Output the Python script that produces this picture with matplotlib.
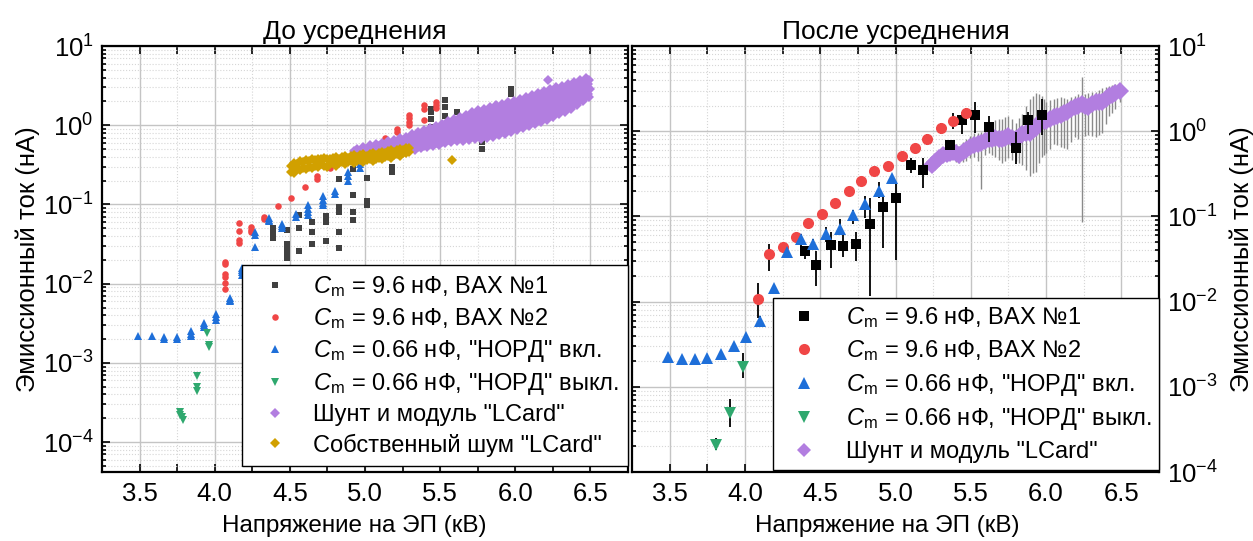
import numpy as np
import matplotlib
matplotlib.use("Agg")
import matplotlib.pyplot as plt
from matplotlib.lines import Line2D
from matplotlib.ticker import MultipleLocator, LogLocator, NullFormatter

plt.rcParams["font.family"] = ["Liberation Sans", "DejaVu Sans"]
plt.rcParams["mathtext.fontset"] = "custom"
plt.rcParams["mathtext.rm"] = "Liberation Sans"
plt.rcParams["mathtext.it"] = "Liberation Sans:italic"
plt.rcParams["mathtext.bf"] = "Liberation Sans:bold"

# ---------------- left panel: raw data ----------------
vax1_x = [4.39, 4.39, 4.39, 4.48, 4.48, 4.48, 4.48, 4.48, 4.56, 4.56, 4.56,
          4.65, 4.65, 4.65, 4.74, 4.74, 4.74, 4.83, 4.83, 4.83, 4.83, 4.83,
          4.92, 4.92, 4.92, 4.92, 5.01, 5.01, 5.01, 5.09, 5.18, 5.18, 5.27, 5.35,
          5.44, 5.44, 5.44, 5.44, 5.53, 5.53, 5.53, 5.61, 5.70,
          5.78, 5.78, 5.78, 5.88, 5.88, 5.97, 5.97, 5.97]
vax1_y = [0.050, 0.045, 0.038, 0.048, 0.032, 0.027, 0.024, 0.021, 0.074, 0.050, 0.026,
          0.060, 0.045, 0.032, 0.072, 0.060, 0.035, 0.21, 0.092, 0.080, 0.045, 0.028,
          0.28, 0.13, 0.080, 0.064, 0.215, 0.11, 0.098, 0.41, 0.30, 0.26, 0.58, 0.75,
          1.60, 1.45, 1.20, 0.95, 2.06, 1.70, 1.30, 1.45, 1.00,
          0.75, 0.62, 0.50, 1.40, 1.15, 2.9, 2.5, 1.8]

vax2_x = [4.07, 4.07, 4.07, 4.07, 4.07, 4.07, 4.16, 4.16, 4.16, 4.16,
          4.24, 4.24, 4.24, 4.33, 4.33, 4.42, 4.51, 4.60, 4.68, 4.68, 4.77, 4.85,
          4.95, 5.03, 5.13, 5.13, 5.21, 5.21, 5.29, 5.29, 5.29, 5.29,
          5.39, 5.39, 5.39, 5.47, 5.47, 5.47]
vax2_y = [0.019, 0.0177, 0.0134, 0.0122, 0.0103, 0.0085, 0.058, 0.046, 0.036, 0.033,
          0.052, 0.048, 0.045, 0.069, 0.066, 0.096, 0.12, 0.166, 0.23, 0.21, 0.29, 0.35,
          0.44, 0.55, 0.69, 0.65, 0.89, 0.82, 1.34, 1.22, 1.10, 1.00,
          1.80, 1.60, 1.15, 1.95, 1.80, 1.63]

nord_on_x = [3.49, 3.58, 3.66, 3.66, 3.75, 3.75, 3.84, 3.84, 3.84,
             3.93, 3.93, 3.93, 4.01, 4.01, 4.01, 4.10, 4.10, 4.10,
             4.18, 4.18, 4.18, 4.18, 4.27, 4.27, 4.27, 4.36, 4.36, 4.36,
             4.45, 4.45, 4.45, 4.54, 4.54, 4.62, 4.62, 4.62, 4.62,
             4.72, 4.72, 4.72, 4.72, 4.80, 4.80, 4.89, 4.89, 4.89, 4.97, 4.97]
nord_on_y = [0.0022, 0.0022, 0.0021, 0.0020, 0.0021, 0.0020, 0.0025, 0.0023, 0.0022,
             0.0032, 0.0030, 0.0028, 0.0041, 0.0038, 0.0035, 0.0066, 0.0063, 0.0060,
             0.016, 0.015, 0.014, 0.013, 0.045, 0.041, 0.029, 0.068, 0.064, 0.061,
             0.057, 0.054, 0.051, 0.076, 0.069, 0.098, 0.088, 0.080, 0.074,
             0.128, 0.115, 0.105, 0.098, 0.150, 0.134, 0.26, 0.23, 0.20, 0.32, 0.29]

nord_off_x = [3.77, 3.77, 3.78, 3.79, 3.88, 3.88, 3.88, 3.95, 3.96, 3.96]
nord_off_y = [0.00024, 0.00022, 0.00021, 0.00019, 0.00068, 0.00049, 0.00044,
              0.0024, 0.0017, 0.0016]

# LCard band, hand-read in rows across the band (upper edge, middle, lower edge)
lcard_x = [4.93, 4.95, 4.97, 4.99, 5.01, 5.03, 5.05, 5.07, 5.09, 5.11, 5.13, 5.15,
           5.17, 5.19, 5.21, 5.23, 5.25, 5.27, 5.29, 5.31, 5.33, 5.35, 5.37, 5.39,
           5.41, 5.43, 5.45, 5.47, 5.49, 5.51, 5.53, 5.55, 5.57, 5.59, 5.61, 5.63,
           5.65, 5.67, 5.69, 5.71, 5.73, 5.75, 5.77, 5.79, 5.81, 5.83, 5.85, 5.87,
           5.89, 5.91, 5.93, 5.95, 5.97, 5.99, 6.01, 6.03, 6.05, 6.07, 6.09, 6.11,
           6.13, 6.15, 6.17, 6.19, 6.21, 6.23, 6.25, 6.27, 6.29, 6.31, 6.33, 6.35,
           6.37, 6.39, 6.41, 6.43, 6.45, 6.47, 6.49]
lcard_x_mid = [4.94, 4.96, 4.98, 5.00, 5.02, 5.04, 5.06, 5.08, 5.10, 5.12, 5.14, 5.16,
               5.18, 5.20, 5.22, 5.24, 5.26, 5.28, 5.30, 5.32, 5.34, 5.36, 5.38, 5.40,
               5.42, 5.44, 5.46, 5.48, 5.50, 5.52, 5.54, 5.56, 5.58, 5.60, 5.62, 5.64,
               5.66, 5.68, 5.70, 5.72, 5.74, 5.76, 5.78, 5.80, 5.82, 5.84, 5.86, 5.88,
               5.90, 5.92, 5.94, 5.96, 5.98, 6.00, 6.02, 6.04, 6.06, 6.08, 6.10, 6.12,
               6.14, 6.16, 6.18, 6.20, 6.22, 6.24, 6.26, 6.28, 6.30, 6.32, 6.34, 6.36,
               6.38, 6.40, 6.42, 6.44, 6.46, 6.48, 6.50]
lcard_hi = [0.47, 0.50, 0.45, 0.53, 0.49, 0.56, 0.50, 0.58, 0.54, 0.60, 0.55, 0.63,
            0.58, 0.66, 0.60, 0.69, 0.64, 0.72, 0.66, 0.78, 0.70, 0.82, 0.75, 0.86,
            0.80, 0.93, 0.84, 0.98, 0.90, 1.04, 0.95, 1.12, 1.00, 1.20, 1.08, 1.28,
            1.15, 1.36, 1.22, 1.45, 1.30, 1.55, 1.38, 1.62, 1.45, 1.70, 1.52, 1.78,
            1.60, 1.88, 1.68, 1.95, 1.78, 2.05, 1.88, 2.15, 1.98, 2.28, 2.08, 2.40,
            2.20, 2.55, 2.32, 2.70, 2.45, 2.85, 2.60, 3.00, 2.75, 3.15, 2.90, 3.35,
            3.05, 3.55, 3.25, 3.75, 3.40, 3.95, 3.70]
lcard_mid = [0.41, 0.44, 0.42, 0.45, 0.44, 0.47, 0.45, 0.49, 0.47, 0.50, 0.48, 0.52,
             0.50, 0.54, 0.52, 0.56, 0.54, 0.59, 0.56, 0.62, 0.59, 0.65, 0.62, 0.68,
             0.65, 0.72, 0.68, 0.76, 0.71, 0.80, 0.74, 0.84, 0.78, 0.88, 0.82, 0.92,
             0.86, 0.97, 0.90, 1.02, 0.94, 1.07, 0.98, 1.12, 1.02, 1.17, 1.06, 1.22,
             1.10, 1.28, 1.15, 1.34, 1.21, 1.41, 1.28, 1.50, 1.36, 1.60, 1.45, 1.70,
             1.55, 1.82, 1.66, 1.95, 1.78, 2.08, 1.90, 2.22, 2.02, 2.36, 2.15, 2.50,
             2.30, 2.65, 2.45, 2.82, 2.62, 3.00, 2.85]
lcard_lo = [0.37, 0.38, 0.36, 0.39, 0.38, 0.40, 0.39, 0.42, 0.40, 0.43, 0.41, 0.44,
            0.43, 0.46, 0.44, 0.47, 0.46, 0.49, 0.47, 0.51, 0.49, 0.53, 0.51, 0.55,
            0.53, 0.58, 0.55, 0.60, 0.57, 0.62, 0.59, 0.65, 0.61, 0.67, 0.63, 0.69,
            0.64, 0.71, 0.65, 0.73, 0.67, 0.74, 0.68, 0.76, 0.70, 0.79, 0.72, 0.82,
            0.75, 0.85, 0.78, 0.89, 0.82, 0.94, 0.86, 1.00, 0.91, 1.06, 0.97, 1.13,
            1.03, 1.20, 1.10, 1.28, 1.18, 1.37, 1.27, 1.48, 1.37, 1.60, 1.48, 1.72,
            1.62, 1.88, 1.80, 2.08, 2.02, 2.30, 2.25]
# the band widens above 5.5 kV: two more rows in between
lcard_xq = [5.505, 5.525, 5.545, 5.565, 5.585, 5.605, 5.625, 5.645, 5.665, 5.685,
            5.705, 5.725, 5.745, 5.765, 5.785, 5.805, 5.825, 5.845, 5.865, 5.885,
            5.905, 5.925, 5.945, 5.965, 5.985, 6.005, 6.025, 6.045, 6.065, 6.085,
            6.105, 6.125, 6.145, 6.165, 6.185, 6.205, 6.225, 6.245, 6.265, 6.285,
            6.305, 6.325, 6.345, 6.365, 6.385, 6.405, 6.425, 6.445, 6.465, 6.485]
lcard_qhi = [0.86, 0.82, 0.90, 0.87, 0.95, 0.99, 0.95, 1.04, 1.01, 1.10,
             1.16, 1.10, 1.20, 1.17, 1.27, 1.32, 1.26, 1.36, 1.33, 1.42,
             1.47, 1.41, 1.53, 1.50, 1.60, 1.66, 1.60, 1.73, 1.70, 1.83,
             1.92, 1.85, 2.00, 1.96, 2.12, 2.24, 2.15, 2.33, 2.28, 2.46,
             2.60, 2.50, 2.70, 2.65, 2.88, 3.02, 2.92, 3.15, 3.10, 3.35]
lcard_qlo = [0.66, 0.69, 0.67, 0.71, 0.70, 0.75, 0.73, 0.77, 0.75, 0.80,
             0.82, 0.79, 0.84, 0.82, 0.88, 0.90, 0.87, 0.93, 0.90, 0.97,
             0.99, 0.96, 1.03, 1.01, 1.09, 1.13, 1.09, 1.18, 1.15, 1.25,
             1.31, 1.26, 1.37, 1.33, 1.46, 1.56, 1.50, 1.63, 1.58, 1.73,
             1.84, 1.77, 1.93, 1.88, 2.07, 2.22, 2.14, 2.33, 2.28, 2.50]
lcard_extra_x = [6.22]
lcard_extra_y = [3.7]

noise_x = [4.51, 4.53, 4.55, 4.57, 4.59, 4.61, 4.63, 4.65, 4.67, 4.69, 4.71, 4.73,
           4.75, 4.77, 4.79, 4.81, 4.83, 4.85, 4.87, 4.89, 4.91, 4.93, 4.95, 4.97,
           4.99, 5.01, 5.03, 5.05, 5.07, 5.09, 5.11, 5.13, 5.15, 5.17, 5.19, 5.21,
           5.23, 5.25, 5.27, 5.29]
noise_hi = [0.31, 0.33, 0.32, 0.35, 0.34, 0.36, 0.35, 0.37, 0.36, 0.38, 0.37, 0.39,
            0.38, 0.37, 0.39, 0.40, 0.38, 0.40, 0.41, 0.39, 0.41, 0.42, 0.40, 0.42,
            0.43, 0.41, 0.43, 0.44, 0.42, 0.45, 0.46, 0.44, 0.47, 0.48, 0.46, 0.49,
            0.50, 0.48, 0.51, 0.52]
noise_lo = [0.26, 0.25, 0.28, 0.27, 0.29, 0.28, 0.30, 0.29, 0.31, 0.30, 0.32, 0.31,
            0.30, 0.32, 0.33, 0.31, 0.33, 0.34, 0.32, 0.34, 0.35, 0.33, 0.35, 0.36,
            0.34, 0.36, 0.37, 0.35, 0.38, 0.39, 0.37, 0.40, 0.41, 0.39, 0.42, 0.43,
            0.41, 0.44, 0.45, 0.46]
noise_extra_x = [5.58]
noise_extra_y = [0.36]

# ---------------- right panel: averaged data (value, lower, upper) ----------------
avg1_x = [4.40, 4.475, 4.57, 4.65, 4.74, 4.83, 4.92, 5.00, 5.10, 5.18, 5.36, 5.44,
          5.53, 5.62, 5.80, 5.88, 5.97]
avg1_y = [0.039, 0.027, 0.046, 0.045, 0.048, 0.081, 0.129, 0.163, 0.40, 0.35, 0.69,
          1.35, 1.54, 1.13, 0.63, 1.36, 1.56]
avg1_lo = [0.032, 0.0151, 0.0245, 0.033, 0.030, 0.0115, 0.043, 0.031, 0.32, 0.216,
           0.62, 0.92, 0.96, 0.75, 0.41, 0.92, 0.90]
avg1_hi = [0.042, 0.039, 0.065, 0.060, 0.065, 0.165, 0.17, 0.25, 0.48, 0.48, 0.74,
           1.67, 2.2, 1.5, 0.97, 1.7, 2.4]

avg2_x = [4.09, 4.16, 4.25, 4.34, 4.42, 4.51, 4.60, 4.69, 4.77, 4.86, 4.95, 5.04,
          5.13, 5.21, 5.30, 5.38, 5.47]
avg2_y = [0.0108, 0.036, 0.044, 0.057, 0.083, 0.106, 0.145, 0.197, 0.26, 0.34, 0.39,
          0.51, 0.63, 0.80, 1.08, 1.30, 1.64]
avg2_lo = [0.0065, 0.023, 0.040, 0.052, 0.076, 0.097, 0.133, 0.182, 0.24, 0.31, 0.35,
           0.47, 0.58, 0.68, 0.92, 1.05, 1.45]
avg2_hi = [0.0165, 0.048, 0.048, 0.062, 0.090, 0.115, 0.158, 0.214, 0.28, 0.37, 0.43,
           0.56, 0.68, 0.92, 1.25, 1.65, 1.85]

avg_on_x = [3.49, 3.58, 3.67, 3.75, 3.84, 3.93, 4.01, 4.10, 4.19, 4.28, 4.37, 4.45,
            4.54, 4.63, 4.72, 4.80, 4.89, 4.98]
avg_on_y = [0.00223, 0.00214, 0.00213, 0.0022, 0.0024, 0.0030, 0.0038, 0.0060, 0.0145,
            0.038, 0.054, 0.0475, 0.0623, 0.0717, 0.103, 0.138, 0.20, 0.28]
avg_on_lo = [0.00212, 0.00204, 0.00202, 0.00208, 0.0021, 0.0026, 0.0034, 0.0055, 0.013,
             0.034, 0.045, 0.040, 0.050, 0.060, 0.081, 0.097, 0.165, 0.26]
avg_on_hi = [0.00234, 0.00224, 0.00224, 0.00232, 0.0027, 0.0034, 0.0043, 0.0068, 0.016,
             0.043, 0.062, 0.055, 0.075, 0.093, 0.118, 0.172, 0.25, 0.30]

avg_off_x = [3.81, 3.90, 3.99]
avg_off_y = [0.00021, 0.00049, 0.0017]
avg_off_lo = [0.00018, 0.00034, 0.00128]
avg_off_hi = [0.00025, 0.00071, 0.0025]

avg_lc_x = [5.24, 5.265, 5.29, 5.315, 5.34, 5.36, 5.38, 5.40, 5.42, 5.445, 5.47, 5.495,
            5.52, 5.545, 5.57, 5.595, 5.62, 5.64, 5.66, 5.685, 5.71, 5.73, 5.75, 5.775,
            5.80, 5.82, 5.84, 5.865, 5.89, 5.91, 5.93, 5.95, 5.97, 5.985, 6.00, 6.025,
            6.05, 6.075, 6.10, 6.12, 6.14, 6.165, 6.19, 6.215, 6.24, 6.26, 6.28, 6.305,
            6.33, 6.35, 6.37, 6.395, 6.42, 6.44, 6.46, 6.49]
avg_lc_y = [0.40, 0.44, 0.48, 0.52, 0.54, 0.56, 0.57, 0.55, 0.52, 0.57, 0.60, 0.65,
            0.69, 0.71, 0.73, 0.77, 0.80, 0.82, 0.84, 0.82, 0.80, 0.84, 0.88, 0.84,
            0.81, 0.86, 0.92, 0.94, 0.96, 1.03, 1.10, 1.23, 1.37, 1.35, 1.33, 1.40,
            1.46, 1.51, 1.56, 1.62, 1.68, 1.80, 1.93, 2.00, 2.07, 2.00, 1.93, 2.06,
            2.19, 2.21, 2.23, 2.40, 2.56, 2.68, 2.81, 3.00]
avg_lc_lo = [0.34, 0.37, 0.40, 0.43, 0.45, 0.46, 0.47, 0.44, 0.42, 0.44, 0.45, 0.48,
             0.50, 0.45, 0.21, 0.52, 0.55, 0.52, 0.50, 0.46, 0.42, 0.45, 0.48, 0.46,
             0.45, 0.42, 0.40, 0.35, 0.30, 0.32, 0.33, 0.42, 0.50, 0.52, 0.55, 0.62,
             0.70, 0.68, 0.65, 0.64, 0.62, 0.74, 0.85, 0.80, 0.087, 0.88, 0.90, 0.88,
             0.85, 0.90, 0.95, 1.20, 1.50, 1.65, 1.80, 2.20]
avg_lc_hi = [0.46, 0.52, 0.56, 0.62, 0.64, 0.68, 0.70, 0.70, 0.66, 0.74, 0.80, 0.88,
             0.95, 0.96, 0.98, 1.10, 1.20, 1.28, 1.35, 1.38, 1.40, 1.45, 1.50, 1.38,
             1.25, 1.42, 1.60, 2.00, 2.40, 2.60, 2.80, 2.70, 2.60, 2.40, 2.20, 2.30,
             2.40, 2.45, 2.50, 2.45, 2.40, 2.50, 2.60, 2.70, 4.30, 2.75, 2.80, 2.85,
             2.90, 3.05, 3.20, 3.30, 3.40, 3.50, 3.60, 3.70]

labels = [r"$C_\mathrm{m}$ = 9.6 нФ, ВАХ №1",
          r"$C_\mathrm{m}$ = 9.6 нФ, ВАХ №2",
          r'$C_\mathrm{m}$ = 0.66 нФ, "НОРД" вкл.',
          r'$C_\mathrm{m}$ = 0.66 нФ, "НОРД" выкл.',
          'Шунт и модуль "LCard"',
          'Собственный шум "LCard"']

C_BLACK_L = "#404040"
C_RED = "#f04646"
C_BLUE = "#1e6fd9"
C_GREEN = "#2fa86e"
C_PURPLE = "#b27ee0"
C_GOLD = "#d1a000"

fig = plt.figure(figsize=(12.53, 5.41), dpi=100)
ax1 = fig.add_axes([102 / 1253, 69 / 541, 526 / 1253, 426 / 541])
ax2 = fig.add_axes([632 / 1253, 69 / 541, 527 / 1253, 426 / 541])


def style(ax, xlab_x):
    ax.set_yscale("log")
    ax.set_xlim(3.25, 6.75)
    ax.xaxis.set_major_locator(MultipleLocator(0.5))
    ax.xaxis.set_minor_locator(MultipleLocator(0.25))
    ax.xaxis.set_major_formatter(plt.FormatStrFormatter("%.1f"))
    ax.yaxis.set_major_locator(LogLocator(base=10, numticks=20))
    ax.yaxis.set_minor_locator(LogLocator(base=10, subs=np.arange(2, 10), numticks=20))
    ax.yaxis.set_minor_formatter(NullFormatter())
    ax.tick_params(which="both", direction="in", top=True, right=True, width=1.2,
                   labelsize=18.5, colors="black")
    ax.tick_params(axis="x", which="both", length=6, pad=7)
    ax.tick_params(axis="y", which="major", length=6, pad=6)
    ax.tick_params(axis="y", which="minor", length=3)
    ax.grid(which="major", color="#c4c4c4", lw=1.0, ls="-")
    ax.grid(which="minor", color="#d6d6d6", lw=0.8, ls=":")
    ax.set_axisbelow(True)
    for s in ax.spines.values():
        s.set_linewidth(1.6)
    ax.set_xlabel("Напряжение на ЭП (кВ)", fontsize=17.5, labelpad=7, x=xlab_x)


# ---- Panel 1: before averaging ----
ax = ax1
style(ax, 0.48)
ax.set_ylim(4.2e-5, 10)
ax.plot(vax1_x, vax1_y, "s", color=C_BLACK_L, ms=3.8, mew=0, label=labels[0])
ax.plot(vax2_x, vax2_y, "o", color=C_RED, ms=4.7, mew=0, label=labels[1])
ax.plot(nord_on_x, nord_on_y, "^", color=C_BLUE, ms=5.2, mew=0, label=labels[2])
ax.plot(nord_off_x, nord_off_y, "v", color=C_GREEN, ms=5.2, mew=0, label=labels[3])
ax.plot(lcard_x + lcard_x_mid + lcard_x + lcard_xq + lcard_xq + lcard_extra_x,
        lcard_hi + lcard_mid + lcard_lo + lcard_qhi + lcard_qlo + lcard_extra_y,
        "D", color=C_PURPLE, ms=4.6, mew=0, label=labels[4])
ax.plot(noise_x + noise_x + noise_extra_x, noise_hi + noise_lo + noise_extra_y,
        "D", color=C_GOLD, ms=4.6, mew=0, label=labels[5])
ax.set_ylabel("Эмиссионный ток (нА)", fontsize=18.5, labelpad=2)
ax.set_title("До усреднения", fontsize=19, pad=5, x=0.481)
leg = ax.legend(loc="lower right", bbox_to_anchor=(1.0, 0.014), borderaxespad=0,
                fontsize=17, frameon=True, fancybox=False, edgecolor="black",
                framealpha=1, labelspacing=0.3, handletextpad=0.6, borderpad=0.4,
                markerscale=1.0)
leg.get_frame().set_linewidth(1.0)


# ---- Panel 2: after averaging ----
def ebar(ax, x, y, lo, hi, **kw):
    y = np.array(y)
    err = [y - np.array(lo), np.array(hi) - y]
    ax.errorbar(x, y, yerr=err, ls="none", **kw)


ax = ax2
style(ax, 0.484)
ax.set_ylim(1e-4, 10)
ebar(ax, avg_lc_x, avg_lc_y, avg_lc_lo, avg_lc_hi, fmt="D", color=C_PURPLE, ms=9, mew=0,
     ecolor="#8a8a8a", elinewidth=1.0, capsize=3.5, capthick=1.0, zorder=2)
ebar(ax, avg1_x, avg1_y, avg1_lo, avg1_hi, fmt="s", color="black", ms=7, mew=0,
     ecolor="black", elinewidth=1.3, capsize=3, capthick=1.3, zorder=3)
ebar(ax, avg2_x, avg2_y, avg2_lo, avg2_hi, fmt="o", color=C_RED, ms=8, mew=0,
     ecolor="black", elinewidth=1.3, capsize=3, capthick=1.3, zorder=3)
ebar(ax, avg_on_x, avg_on_y, avg_on_lo, avg_on_hi, fmt="^", color=C_BLUE, ms=8.5, mew=0,
     ecolor="black", elinewidth=1.3, capsize=3, capthick=1.3, zorder=3)
ebar(ax, avg_off_x, avg_off_y, avg_off_lo, avg_off_hi, fmt="v", color=C_GREEN, ms=8.5, mew=0,
     ecolor="black", elinewidth=1.3, capsize=3, capthick=1.3, zorder=3)
ax.tick_params(axis="y", which="both", labelleft=False, labelright=True)
ax.yaxis.set_label_position("right")
ax.set_ylabel("Эмиссионный ток (нА)", fontsize=18.5, labelpad=8)
ax.set_title("После усреднения", fontsize=19, pad=5)

handles = [Line2D([], [], ls="none", marker="s", color="black", ms=7, mew=0),
           Line2D([], [], ls="none", marker="o", color=C_RED, ms=8, mew=0),
           Line2D([], [], ls="none", marker="^", color=C_BLUE, ms=8.5, mew=0),
           Line2D([], [], ls="none", marker="v", color=C_GREEN, ms=8.5, mew=0),
           Line2D([], [], ls="none", marker="D", color=C_PURPLE, ms=7, mew=0)]
leg = ax.legend(handles, labels[:5], loc="lower right", bbox_to_anchor=(1.0, 0.005),
                borderaxespad=0, fontsize=17, frameon=True, fancybox=False,
                edgecolor="black", framealpha=1, labelspacing=0.36, handletextpad=0.8,
                borderpad=0.3)
leg.get_frame().set_linewidth(1.0)

plt.savefig("out.png", dpi=100)
print("saved out.png")
